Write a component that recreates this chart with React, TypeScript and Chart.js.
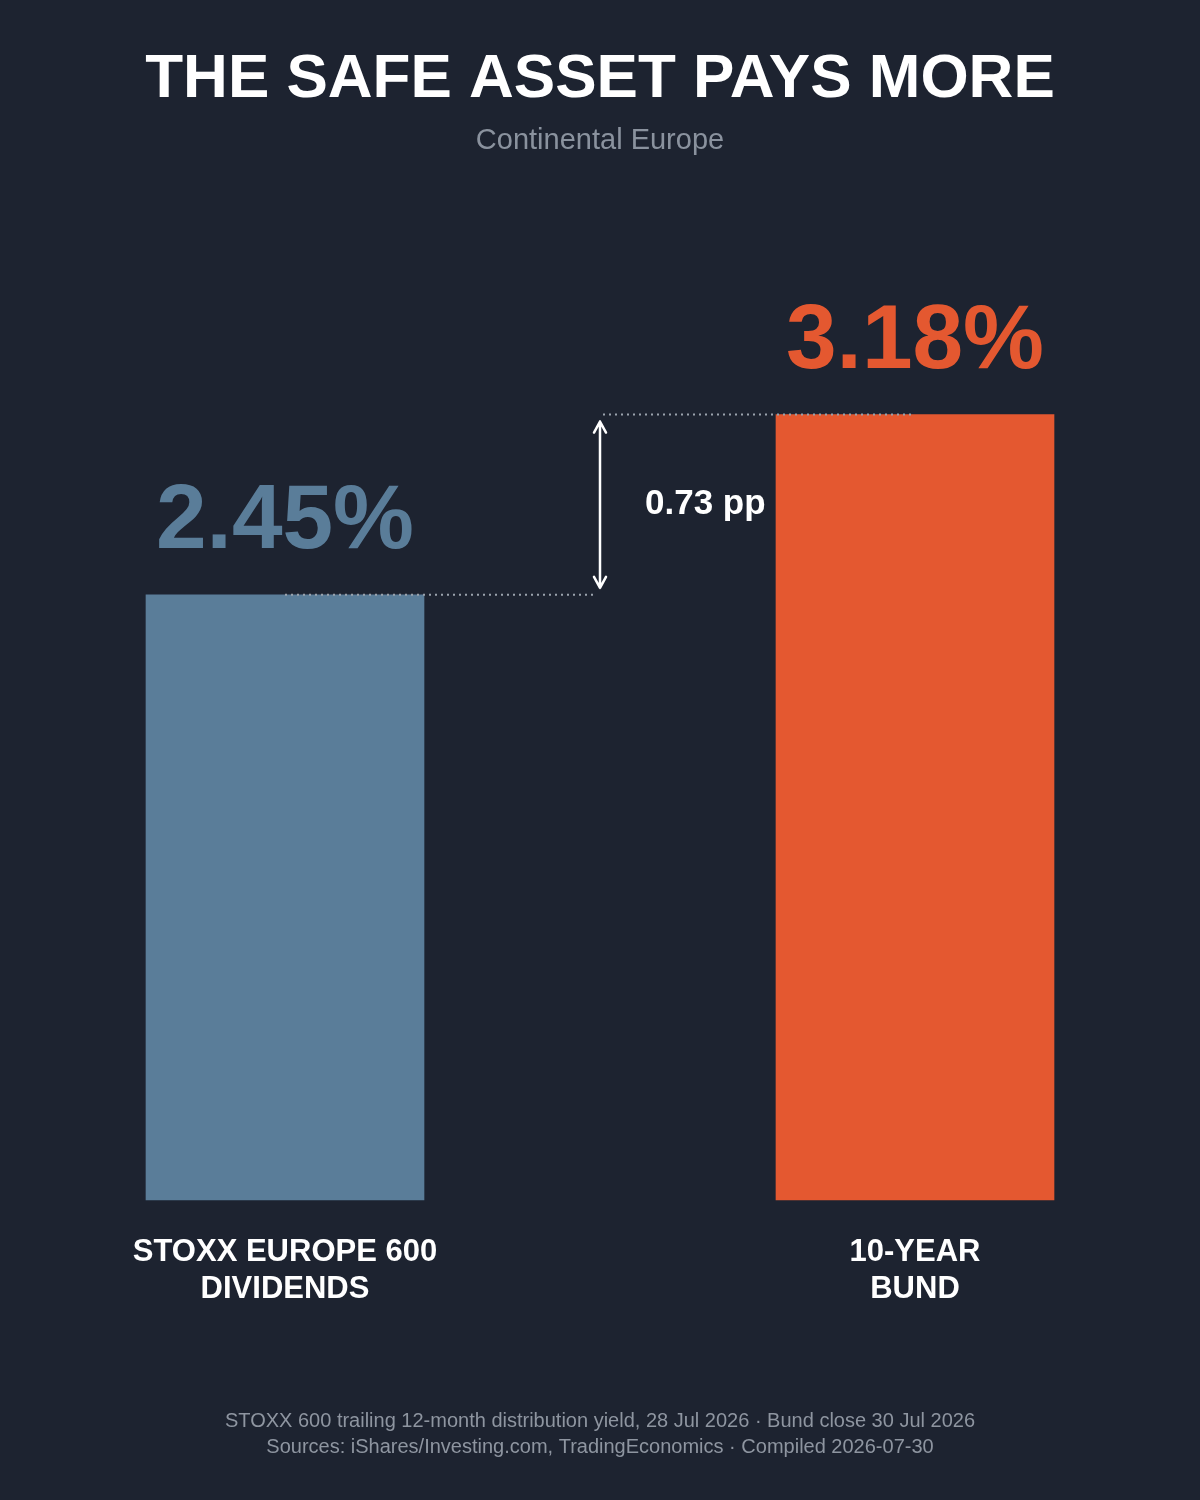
import { useEffect, useRef } from 'react';
import { Chart, registerables } from 'chart.js';

Chart.register(...registerables);

const categories = ['STOXX 600', 'Bund'];
const categoryLines = [
  ['STOXX EUROPE 600', 'DIVIDENDS'],
  ['10-YEAR', 'BUND']
];
const yields = [2.45, 3.18];
const barColors = ['#5a7d99', '#e45830'];
const gapLabel = '0.73 pp';

const title = 'THE SAFE ASSET PAYS MORE';
const subtitle = 'Continental Europe';
const footnotes = [
  'STOXX 600 trailing 12-month distribution yield, 28 Jul 2026 · Bund close 30 Jul 2026',
  'Sources: iShares/Investing.com, TradingEconomics · Compiled 2026-07-30'
];

const FONT = '"Liberation Sans", Arial, sans-serif';
const BG = '#1d2330';

const overlay = {
  id: 'overlay',
  afterDatasetsDraw(chart: Chart) {
    const { ctx, scales } = chart;
    const x = scales.x;
    const y = scales.y;
    const w = chart.width;
    ctx.save();
    ctx.textAlign = 'center';
    ctx.textBaseline = 'middle';

    // title block
    ctx.fillStyle = '#ffffff';
    ctx.font = `bold 62px ${FONT}`;
    ctx.fillText(title, w / 2, 80);
    ctx.fillStyle = '#8a929e';
    ctx.font = `29px ${FONT}`;
    ctx.fillText(subtitle, w / 2, 141);

    const midX = x.getPixelForDecimal(0.5);

    // dotted guide lines from bar tops to the gap arrow
    ctx.strokeStyle = '#9aa2ac';
    ctx.lineWidth = 2;
    ctx.setLineDash([2, 4]);
    yields.forEach((v, i) => {
      const px = x.getPixelForValue(i);
      const py = y.getPixelForValue(v);
      ctx.beginPath();
      if (i === 0) {
        ctx.moveTo(px, py);
        ctx.lineTo(midX - 3, py);
      } else {
        ctx.moveTo(midX + 3, py);
        ctx.lineTo(px, py);
      }
      ctx.stroke();
    });
    ctx.setLineDash([]);

    // gap arrow
    const yLow = y.getPixelForValue(yields[0]);
    const yHigh = y.getPixelForValue(yields[1]);
    const a1 = yHigh + 7;
    const a2 = yLow - 7;
    ctx.strokeStyle = '#ffffff';
    ctx.lineWidth = 2.5;
    ctx.lineCap = 'round';
    ctx.lineJoin = 'round';
    ctx.beginPath();
    ctx.moveTo(midX, a1);
    ctx.lineTo(midX, a2);
    ctx.moveTo(midX - 6, a1 + 11);
    ctx.lineTo(midX, a1);
    ctx.lineTo(midX + 6, a1 + 11);
    ctx.moveTo(midX - 6, a2 - 11);
    ctx.lineTo(midX, a2);
    ctx.lineTo(midX + 6, a2 - 11);
    ctx.stroke();

    ctx.fillStyle = '#ffffff';
    ctx.font = `bold 35px ${FONT}`;
    ctx.textAlign = 'left';
    ctx.fillText(gapLabel, midX + 45, (yLow + yHigh) / 2);
    ctx.textAlign = 'center';

    // value labels and category labels
    yields.forEach((v, i) => {
      const px = x.getPixelForValue(i);
      const py = y.getPixelForValue(v);
      ctx.fillStyle = barColors[i];
      ctx.font = `bold 91px ${FONT}`;
      ctx.textBaseline = 'alphabetic';
      ctx.fillText(`${v.toFixed(2)}%`, px, py - 47);
      ctx.textBaseline = 'middle';
      ctx.fillStyle = '#ffffff';
      ctx.font = `bold 31px ${FONT}`;
      categoryLines[i].forEach((line, j) => {
        ctx.fillText(line, px, y.bottom + 52 + j * 37);
      });
    });

    // footer
    ctx.fillStyle = '#8e95a0';
    ctx.font = `20px ${FONT}`;
    footnotes.forEach((line, j) => {
      ctx.fillText(line, w / 2, 1421 + j * 26);
    });
    ctx.restore();
  }
};

export default function App() {
  const canvasRef = useRef<HTMLCanvasElement>(null);
  const chartRef = useRef<Chart | null>(null);

  useEffect(() => {
    if (!canvasRef.current) return;
    const ctx = canvasRef.current.getContext('2d');
    if (!ctx) return;

    if (chartRef.current) {
      chartRef.current.destroy();
    }

    chartRef.current = new Chart(ctx, {
      type: 'bar',
      data: {
        labels: categories,
        datasets: [
          {
            data: yields,
            backgroundColor: barColors,
            borderWidth: 0,
            barThickness: 278,
            clip: false
          }
        ]
      },
      options: {
        responsive: false,
        animation: false,
        devicePixelRatio: 1,
        layout: {
          padding: { left: 285, right: 285, top: 212, bottom: 300 }
        },
        plugins: {
          legend: { display: false },
          tooltip: { enabled: false }
        },
        scales: {
          x: { display: false, offset: false },
          y: { display: false, min: 0, max: 4 }
        }
      },
      plugins: [overlay]
    });

    return () => {
      if (chartRef.current) {
        chartRef.current.destroy();
        chartRef.current = null;
      }
    };
  }, []);

  return (
    <div
      style={{
        position: 'absolute',
        left: 0,
        top: 0,
        width: 1200,
        height: 1500,
        background: BG
      }}
    >
      <canvas ref={canvasRef} width={1200} height={1500} />
    </div>
  );
}
